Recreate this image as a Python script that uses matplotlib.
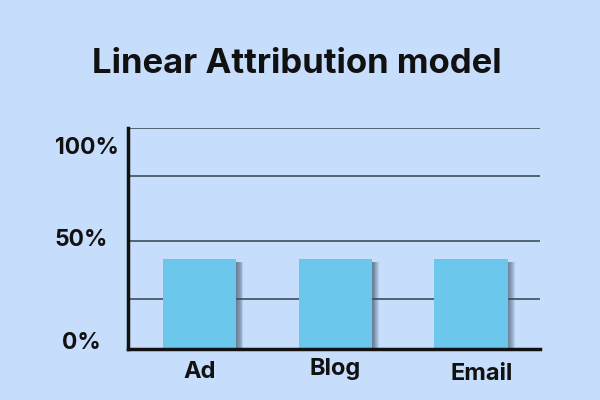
import matplotlib
matplotlib.use("Agg")
import matplotlib.pyplot as plt
import matplotlib.transforms as mtransforms

categories = ["Ad", "Blog", "Email"]
values = [40.7, 40.7, 40.7]
tick_positions = [2.5, 49.5, 91]
tick_labels = ["0%", "50%", "100%"]
grid_levels = [22.6, 48.9, 78.3, 100]

BG = "#c6defb"
BAR = "#6cc7ec"

plt.rcParams['font.family'] = ['Inter', 'DejaVu Sans']

fig = plt.figure(figsize=(6, 4), dpi=100, facecolor=BG)
ax = fig.add_axes([128/600, 51/400, 412/600, 221/400])
ax.set_facecolor(BG)

x = list(range(len(categories)))
w = 0.54

for g in grid_levels:
    ax.axhline(g, color="#4b5866", lw=1.3, zorder=1)

# soft shadow on the right of each bar
for i in range(8):
    off = mtransforms.offset_copy(ax.transData, fig=fig, x=(i + 1) * 0.9, y=-2.5, units='dots')
    ax.bar(x, values, width=w, color="#3d4f66", alpha=0.12, transform=off,
           zorder=2, linewidth=0)

ax.bar(x, values, width=w, color=BAR, zorder=3, linewidth=0)

ax.set_xlim(-0.527, 2.509)
ax.set_ylim(0, 100)

for s in ["top", "right"]:
    ax.spines[s].set_visible(False)
for s in ["left", "bottom"]:
    ax.spines[s].set_linewidth(2.5)
    ax.spines[s].set_color("#111111")
    ax.spines[s].set_zorder(5)

ax.set_xticks([])
ax.set_yticks([])

# y labels, left aligned
ytrans = ax.get_yaxis_transform()
ylab_dx = [-66, -73, -73]
for pos, lab, dx in zip(tick_positions, tick_labels, ylab_dx):
    ax.annotate(lab, xy=(0, pos), xycoords=ytrans, xytext=(dx, 0),
                textcoords="offset pixels", ha="left", va="center",
                fontsize=16.5, fontweight="bold", color="#111111",
                annotation_clip=False)

label_dx = [0, 0, 11]
label_dy = [-23, -20, -25]
for xi, lab, dx, dy in zip(x, categories, label_dx, label_dy):
    ax.annotate(lab, xy=(xi, 0), xytext=(dx, dy), textcoords="offset pixels",
                ha="center", va="center", fontsize=17, fontweight="bold",
                color="#111111", annotation_clip=False)

fig.text(0.495, 0.84, "Linear Attribution model", ha="center", va="center",
         fontsize=25, fontweight="bold", color="#111111")

fig.savefig("out.png", dpi=100, facecolor=BG)
